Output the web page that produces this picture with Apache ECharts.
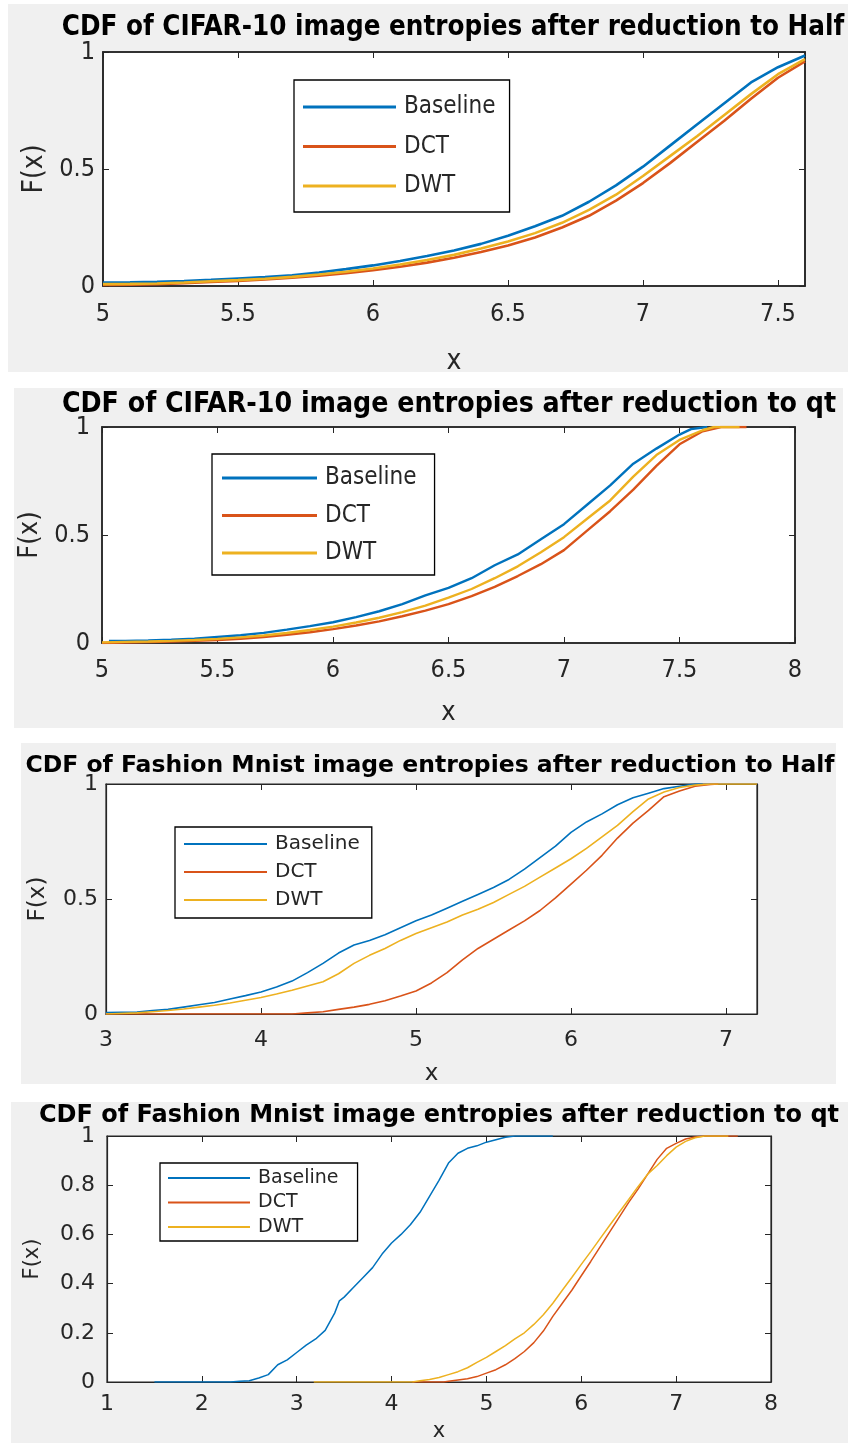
<!DOCTYPE html>
<html>
<head>
<meta charset="utf-8">
<title>CDF of image entropies</title>
<script src="https://cdn.jsdelivr.net/npm/echarts@6/dist/echarts.min.js"></script>
<style>
  html, body { margin: 0; padding: 0; background: #ffffff; }
  #chart { width: 850px; height: 1443px; }
</style>
</head>
<body>
<div id="chart"></div>
<script>
// ---- data: empirical CDFs, [entropy, F(x)] ----
const seriesNames = ['Baseline', 'DCT', 'DWT'];

// CIFAR-10, reduction to Half
const cifarHalfBaseline = [[5.0,0.015],[5.1,0.016],[5.2,0.018],[5.3,0.021],[5.4,0.026],[5.5,0.032],[5.6,0.038],[5.7,0.046],[5.8,0.058],[5.9,0.072],[6.0,0.088],[6.1,0.107],[6.2,0.128],[6.3,0.152],[6.4,0.18],[6.5,0.215],[6.6,0.255],[6.7,0.30],[6.8,0.36],[6.9,0.43],[7.0,0.51],[7.1,0.60],[7.2,0.69],[7.3,0.78],[7.4,0.87],[7.5,0.935],[7.6,0.985]];
const cifarHalfDCT = [[5.0,0.005],[5.1,0.006],[5.2,0.008],[5.3,0.012],[5.4,0.017],[5.5,0.022],[5.6,0.028],[5.7,0.035],[5.8,0.044],[5.9,0.055],[6.0,0.067],[6.1,0.082],[6.2,0.10],[6.3,0.121],[6.4,0.145],[6.5,0.173],[6.6,0.207],[6.7,0.25],[6.8,0.30],[6.9,0.365],[7.0,0.44],[7.1,0.525],[7.2,0.615],[7.3,0.705],[7.4,0.80],[7.5,0.89],[7.6,0.96]];
const cifarHalfDWT = [[5.0,0.008],[5.1,0.009],[5.2,0.011],[5.3,0.015],[5.4,0.02],[5.5,0.025],[5.6,0.031],[5.7,0.039],[5.8,0.049],[5.9,0.061],[6.0,0.075],[6.1,0.092],[6.2,0.111],[6.3,0.133],[6.4,0.16],[6.5,0.19],[6.6,0.226],[6.7,0.27],[6.8,0.325],[6.9,0.39],[7.0,0.47],[7.1,0.555],[7.2,0.64],[7.3,0.73],[7.4,0.82],[7.5,0.905],[7.6,0.97]];

// CIFAR-10, reduction to qt
const cifarQtBaseline = [[5.03,0.01],[5.1,0.01],[5.2,0.012],[5.3,0.015],[5.4,0.02],[5.5,0.028],[5.6,0.036],[5.7,0.047],[5.8,0.062],[5.9,0.078],[6.0,0.096],[6.1,0.12],[6.2,0.147],[6.3,0.18],[6.4,0.22],[6.5,0.255],[6.6,0.30],[6.7,0.36],[6.8,0.41],[6.9,0.48],[7.0,0.55],[7.1,0.64],[7.2,0.73],[7.3,0.83],[7.4,0.90],[7.5,0.965],[7.55,0.99],[7.62,1.0]];
const cifarQtDCT = [[5.0,0.0],[5.1,0.002],[5.2,0.004],[5.3,0.007],[5.4,0.01],[5.5,0.014],[5.6,0.02],[5.7,0.028],[5.8,0.038],[5.9,0.05],[6.0,0.064],[6.1,0.081],[6.2,0.10],[6.3,0.124],[6.4,0.15],[6.5,0.18],[6.6,0.217],[6.7,0.26],[6.8,0.31],[6.9,0.365],[7.0,0.43],[7.1,0.52],[7.2,0.61],[7.3,0.71],[7.4,0.82],[7.5,0.92],[7.6,0.98],[7.68,1.0],[7.79,1.0]];
const cifarQtDWT = [[5.0,0.003],[5.1,0.005],[5.2,0.007],[5.3,0.01],[5.4,0.014],[5.5,0.019],[5.6,0.026],[5.7,0.035],[5.8,0.046],[5.9,0.06],[6.0,0.076],[6.1,0.095],[6.2,0.117],[6.3,0.143],[6.4,0.173],[6.5,0.21],[6.6,0.25],[6.7,0.30],[6.8,0.355],[6.9,0.42],[7.0,0.49],[7.1,0.575],[7.2,0.66],[7.3,0.77],[7.4,0.87],[7.5,0.94],[7.6,0.985],[7.65,1.0],[7.76,1.0]];

// Fashion MNIST, reduction to Half
const fashionHalfBaseline = [[3.0,0.006],[3.2,0.008],[3.3,0.015],[3.4,0.02],[3.5,0.03],[3.6,0.04],[3.7,0.05],[3.8,0.065],[3.9,0.08],[4.0,0.096],[4.1,0.117],[4.2,0.143],[4.3,0.18],[4.4,0.22],[4.5,0.265],[4.6,0.30],[4.7,0.32],[4.8,0.345],[4.9,0.375],[5.0,0.405],[5.1,0.43],[5.2,0.46],[5.3,0.49],[5.4,0.52],[5.5,0.55],[5.6,0.585],[5.7,0.63],[5.8,0.68],[5.9,0.73],[6.0,0.79],[6.1,0.835],[6.2,0.87],[6.3,0.91],[6.4,0.94],[6.5,0.96],[6.6,0.98],[6.7,0.99],[6.8,1.0],[6.85,1.0]];
const fashionHalfDCT = [[3.0,0.0],[4.2,0.0],[4.3,0.005],[4.4,0.01],[4.5,0.02],[4.6,0.03],[4.7,0.042],[4.8,0.058],[4.9,0.078],[5.0,0.10],[5.1,0.135],[5.2,0.18],[5.3,0.235],[5.4,0.285],[5.5,0.325],[5.6,0.365],[5.7,0.405],[5.8,0.45],[5.9,0.505],[6.0,0.565],[6.1,0.625],[6.2,0.69],[6.3,0.765],[6.4,0.83],[6.5,0.885],[6.6,0.945],[6.7,0.97],[6.8,0.99],[6.9,0.998],[6.95,1.0]];
const fashionHalfDWT = [[3.0,0.0],[3.2,0.005],[3.3,0.01],[3.4,0.015],[3.5,0.022],[3.6,0.03],[3.7,0.038],[3.8,0.048],[3.9,0.06],[4.0,0.072],[4.1,0.087],[4.2,0.103],[4.3,0.122],[4.4,0.14],[4.5,0.175],[4.6,0.22],[4.7,0.255],[4.8,0.285],[4.9,0.32],[5.0,0.35],[5.1,0.375],[5.2,0.40],[5.3,0.43],[5.4,0.455],[5.5,0.485],[5.6,0.52],[5.7,0.555],[5.8,0.595],[5.9,0.635],[6.0,0.675],[6.1,0.72],[6.2,0.77],[6.3,0.82],[6.4,0.88],[6.5,0.935],[6.6,0.965],[6.7,0.985],[6.8,0.995],[6.9,1.0],[7.2,1.0]];

// Fashion MNIST, reduction to qt
const fashionQtBaseline = [[1.5,0.0],[2.3,0.0],[2.4,0.003],[2.5,0.005],[2.6,0.016],[2.7,0.03],[2.8,0.07],[2.9,0.09],[3.0,0.12],[3.1,0.15],[3.2,0.175],[3.3,0.21],[3.4,0.28],[3.45,0.33],[3.5,0.345],[3.6,0.385],[3.7,0.425],[3.8,0.465],[3.9,0.52],[4.0,0.565],[4.1,0.60],[4.2,0.64],[4.3,0.69],[4.4,0.755],[4.5,0.82],[4.6,0.89],[4.7,0.93],[4.8,0.95],[4.9,0.96],[5.0,0.975],[5.1,0.985],[5.2,0.995],[5.3,1.0],[5.7,1.0]];
const fashionQtDCT = [[4.22,0.0],[4.55,0.0],[4.6,0.003],[4.7,0.008],[4.8,0.013],[4.9,0.022],[5.0,0.036],[5.1,0.05],[5.2,0.07],[5.3,0.095],[5.4,0.124],[5.5,0.16],[5.6,0.207],[5.7,0.267],[5.8,0.32],[5.9,0.373],[6.0,0.432],[6.1,0.49],[6.2,0.55],[6.3,0.61],[6.4,0.67],[6.5,0.73],[6.6,0.785],[6.7,0.845],[6.8,0.905],[6.9,0.95],[7.0,0.97],[7.1,0.988],[7.2,0.996],[7.3,1.0],[7.65,1.0]];
const fashionQtDWT = [[3.18,0.0],[4.22,0.0],[4.3,0.005],[4.4,0.01],[4.5,0.018],[4.6,0.03],[4.7,0.042],[4.8,0.058],[4.9,0.08],[5.0,0.10],[5.1,0.124],[5.2,0.148],[5.3,0.175],[5.4,0.20],[5.5,0.234],[5.6,0.273],[5.7,0.32],[5.8,0.373],[5.9,0.425],[6.0,0.478],[6.1,0.53],[6.2,0.584],[6.3,0.637],[6.4,0.69],[6.5,0.742],[6.6,0.795],[6.7,0.845],[6.8,0.88],[6.9,0.92],[7.0,0.955],[7.1,0.978],[7.2,0.993],[7.3,1.0],[7.55,1.0]];

// x-axis ranges [min, max, step] and y tick steps for each panel
const xRanges = [[5, 7.6, 0.5], [5, 8, 0.5], [3, 7.2, 1], [1, 8, 1]];
const yTickSteps = [0.5, 0.5, 0.5, 0.2];
const panelTitles = [
  'CDF of CIFAR-10 image entropies after reduction to Half',
  'CDF of CIFAR-10 image entropies after reduction to qt',
  'CDF of Fashion Mnist image entropies after reduction to Half',
  'CDF of Fashion Mnist image entropies after reduction to qt'
];
const panelData = [
  [cifarHalfBaseline, cifarHalfDCT, cifarHalfDWT],
  [cifarQtBaseline, cifarQtDCT, cifarQtDWT],
  [fashionHalfBaseline, fashionHalfDCT, fashionHalfDWT],
  [fashionQtBaseline, fashionQtDCT, fashionQtDWT]
];

// ---- layout & style ----
const colors = ['#0072BD', '#D95319', '#EDB120'];
const axisColor = '#262626';
const NARROW = "'DejaVu Sans Condensed', 'Liberation Sans Narrow', sans-serif";
const WIDE = "'DejaVu Sans', 'Liberation Sans', sans-serif";

// figure backgrounds behind each panel
const frames = [
  { x: 8,  y: 4,    w: 840, h: 368 },
  { x: 14, y: 388,  w: 829, h: 340 },
  { x: 21, y: 743,  w: 815, h: 341 },
  { x: 11, y: 1102, w: 837, h: 341 }
];
const grids = [
  { left: 103, top: 52,   width: 702, height: 234 },
  { left: 102, top: 427,  width: 693, height: 216 },
  { left: 106, top: 784,  width: 651, height: 230 },
  { left: 107, top: 1136, width: 664, height: 252 }
];
const panelStyle = [
  { font: NARROW, title: 27.5, titleX: 453, titleY: 14,   tick: 25, name: 28, xGap: 62, yGap: 51, xMargin: 15.5, yMargin: 8,  lw: 2.6, box: 1.6, maxLabel: false,
    leg: { left: 294, top: 80,   fs: 24, gap: 13.5, lh: 26, w: 93, pad: [14, 14, 13, 9] } },
  { font: NARROW, title: 28.2, titleX: 449, titleY: 391,  tick: 25, name: 27, xGap: 56, yGap: 52, xMargin: 14.5, yMargin: 12, lw: 2.4, box: 1.5, maxLabel: true,
    leg: { left: 212, top: 454,  fs: 24, gap: 12.5, lh: 25, w: 95, pad: [11.5, 18, 9.5, 10] } },
  { font: WIDE,   title: 23.5, titleX: 430, titleY: 754,  tick: 22, name: 23, xGap: 49, yGap: 56, xMargin: 15,   yMargin: 8,  lw: 1.6, box: 1.2, maxLabel: false,
    leg: { left: 175, top: 827,  fs: 20, gap: 6,    lh: 22, w: 83, pad: [6, 12, 7, 9] } },
  { font: WIDE,   title: 24,   titleX: 439, titleY: 1104, tick: 22, name: 21, xGap: 39, yGap: 64, xMargin: 11,   yMargin: 12, lw: 1.5, box: 1.2, maxLabel: true,
    leg: { left: 160, top: 1163, fs: 19, gap: 3.5,  lh: 21, w: 82, pad: [4.5, 19, 3.5, 8] } }
];

const option = {
  animation: false,
  backgroundColor: '#ffffff',
  graphic: frames.map(f => ({
    type: 'rect', z: -10, silent: true,
    shape: { x: f.x, y: f.y, width: f.w, height: f.h },
    style: { fill: '#f0f0f0' }
  })),
  title: panelTitles.map((t, i) => ({
    text: t,
    left: panelStyle[i].titleX,
    top: panelStyle[i].titleY,
    textAlign: 'center',
    padding: 0,
    textStyle: { fontFamily: panelStyle[i].font, fontSize: panelStyle[i].title, fontWeight: 'bold', color: '#000' }
  })),
  grid: grids.map((g, i) => Object.assign({
    show: true, backgroundColor: '#ffffff', borderColor: axisColor, borderWidth: panelStyle[i].box, containLabel: false
  }, g)),
  legend: panelStyle.map(p => ({
    data: seriesNames,
    orient: 'vertical',
    left: p.leg.left,
    top: p.leg.top,
    icon: 'rect',
    itemWidth: p.leg.w,
    itemHeight: p.lw + 0.4,
    itemGap: p.leg.gap,
    padding: p.leg.pad,
    backgroundColor: '#ffffff',
    borderColor: '#000000',
    borderWidth: 1.3,
    borderRadius: 0,
    selectedMode: false,
    textStyle: { fontFamily: p.font, fontSize: p.leg.fs, lineHeight: p.leg.lh, color: '#262626', padding: [0, 0, 0, 3] }
  })),
  xAxis: [],
  yAxis: [],
  series: []
};

xRanges.forEach((r, i) => {
  const p = panelStyle[i];
  const line = { show: true, onZero: false, lineStyle: { color: axisColor, width: p.box } };
  const tickLine = { show: true, inside: true, length: 6, lineStyle: { color: axisColor, width: 1 } };
  // bottom x axis with labels, plus a bare top copy for the inner ticks of the box
  option.xAxis.push({
    type: 'value', gridIndex: i, min: r[0], max: r[1], interval: r[2],
    position: 'bottom',
    name: 'x', nameLocation: 'middle', nameGap: p.xGap,
    nameTextStyle: { fontFamily: p.font, fontSize: p.name, color: '#262626' },
    axisLine: line,
    axisTick: tickLine,
    axisLabel: { fontFamily: p.font, fontSize: p.tick, color: '#262626', margin: p.xMargin, showMaxLabel: p.maxLabel },
    splitLine: { show: false }
  });
  option.xAxis.push({
    type: 'value', gridIndex: i, min: r[0], max: r[1], interval: r[2],
    position: 'top',
    axisLine: line,
    axisTick: tickLine,
    axisLabel: { show: false },
    splitLine: { show: false }
  });
  option.yAxis.push({
    type: 'value', gridIndex: i, min: 0, max: 1, interval: yTickSteps[i],
    position: 'left',
    name: 'F(x)', nameLocation: 'middle', nameGap: p.yGap, nameRotate: 90,
    nameTextStyle: { fontFamily: p.font, fontSize: p.name, color: '#262626' },
    axisLine: line,
    axisTick: tickLine,
    axisLabel: { fontFamily: p.font, fontSize: p.tick, color: '#262626', margin: p.yMargin },
    splitLine: { show: false }
  });
  option.yAxis.push({
    type: 'value', gridIndex: i, min: 0, max: 1, interval: yTickSteps[i],
    position: 'right',
    axisLine: line,
    axisTick: tickLine,
    axisLabel: { show: false },
    splitLine: { show: false }
  });
  panelData[i].forEach((d, k) => {
    option.series.push({
      name: seriesNames[k],
      type: 'line',
      xAxisIndex: i * 2,
      yAxisIndex: i * 2,
      data: d,
      showSymbol: false,
      symbol: 'none',
      clip: true,
      color: colors[k],
      lineStyle: { color: colors[k], width: p.lw },
      z: 3 + k
    });
  });
});

const chart = echarts.init(document.getElementById('chart'), null, { renderer: 'canvas' });
chart.setOption(option);
</script>
</body>
</html>
